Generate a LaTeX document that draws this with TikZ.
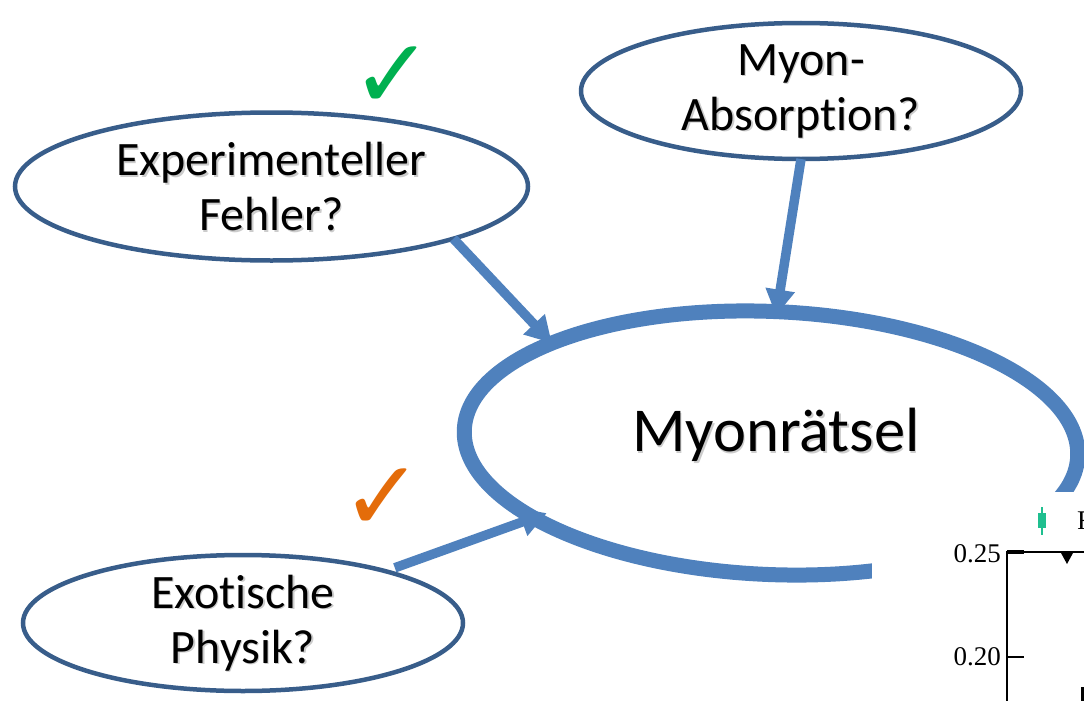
\documentclass[tikz,border=0pt]{standalone}
\usepackage{fontspec}
\setmainfont[RawFeature={-liga}]{Carlito}
\newfontfamily\plotserif{Liberation Serif}
\newfontfamily\symfont{DejaVu Sans}
\usetikzlibrary{shapes.geometric,arrows.meta}
\definecolor{outl}{HTML}{385D8A}
\definecolor{arrc}{HTML}{4F81BD}
\definecolor{chkg}{HTML}{00B050}
\definecolor{chko}{HTML}{E46C0A}
\definecolor{legg}{HTML}{1FBF8F}
\begin{document}
\begin{tikzpicture}[x=1pt,y=-1pt,
  ell/.style={ellipse, draw=outl, line width=4.5pt, fill=white, inner sep=0pt, outer sep=0pt},
  bigell/.style={ellipse, draw=arrc, line width=15pt, fill=white, inner sep=0pt, outer sep=0pt,
                 minimum width=614pt, minimum height=263pt},
  arr/.style={draw=arrc, line width=9.5pt, -{Triangle[length=26pt,width=28pt]}},
  lbl/.style={font=\fontsize{48}{55}\selectfont, align=center, inner sep=0pt},
  biglbl/.style={font=\fontsize{62.5}{70}\selectfont, inner sep=0pt},
  shd/.style={text=black!20},
  chk/.style={font=\symfont\fontsize{98}{98}\selectfont, inner sep=0pt},
  axlbl/.style={font=\plotserif\fontsize{27}{30}\selectfont, inner sep=0pt, anchor=east}
]
\useasboundingbox (0,0) rectangle (1084,701);
\fill[white] (0,0) rectangle (1084,701);

% ellipses
\node[ell, minimum width=513pt, minimum height=148pt] (E) at (271.5,186.5) {};
\node[ell, minimum width=440pt, minimum height=136pt] (A) at (801,91) {};
\node[ell, minimum width=440pt, minimum height=136pt] (X) at (243,623) {};
\node[bigell, rotate=-2.5] (M) at (771,443) {};

% labels with shadow
\node[lbl,shd] at ([shift={(1.5,1.5)}]E.center) {Experimenteller\\Fehler?};
\node[lbl] (Et) at (E.center) {Experimenteller\\Fehler?};
\node[lbl,shd] at ([shift={(1.5,1.5)}]A.center) {Myon-\\Absorption?};
\node[lbl] (At) at (A.center) {Myon-\\Absorption?};
\node[lbl,shd] at ([shift={(1.5,1.5)}]X.center) {Exotische\\Physik?};
\node[lbl] (Xt) at (X.center) {Exotische\\Physik?};
\node[biglbl,shd] at (777.5,436.5) {Myonrätsel};
\node[biglbl] (Mt) at (776,435) {Myonrätsel};

% arrows
\draw[arr] (E.-16.7) -- (M.158);
\draw[arr, shorten >=-4pt] (A.south) -- (M.90);
\draw[arr, shorten <=10pt, shorten >=-14pt] (X.20) -- (M.200.6);

% check marks
\node[chk, text=chkg] (c1) at (393,78) {✓};
\node[chk, text=chko] (c2) at (383,500) {✓};

% plot fragment
\fill[white] (872,492) rectangle (1084,701);
\draw[line width=1.6pt] (1007,701) -- (1007,552) -- (1084,552);
\draw[line width=3.5pt] (1007,552) -- (1024,552);
\draw[line width=1.6pt] (1007,657) -- (1024,657);
\fill (1061,553) -- (1073,553) -- (1067,564) -- cycle;
\draw[legg, line width=1.6pt] (1042,507) -- (1042,535);
\fill[legg] (1038,513) rectangle (1046,528);
\node[font=\plotserif\fontsize{27}{30}\selectfont, inner sep=0pt, anchor=west] (leg) at (1077,521) {F};
\node[axlbl] (y25) at (1001,554) {0.25};
\node[axlbl] (y20) at (1001,657) {0.20};
\fill (1081,687) rectangle (1084,701);
\end{tikzpicture}
\end{document}
